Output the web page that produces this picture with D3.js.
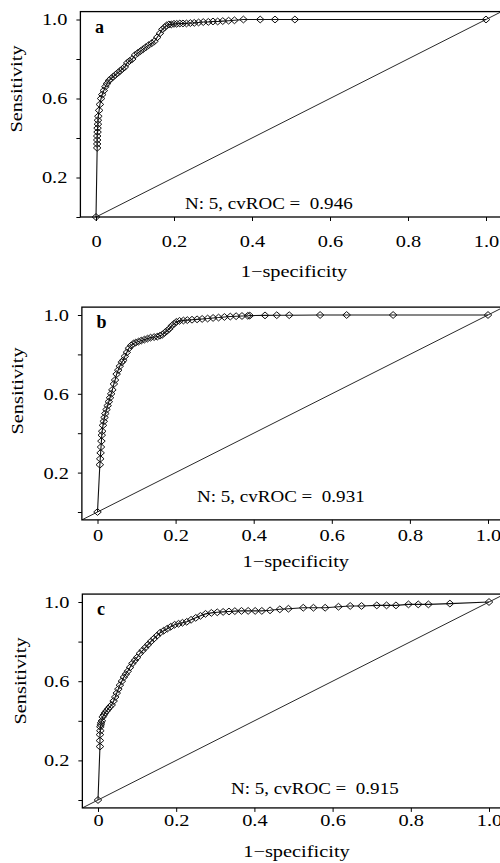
<!DOCTYPE html>
<html>
<head>
<meta charset="utf-8">
<script src="https://cdn.jsdelivr.net/npm/d3@7"></script>
<style>
  body { margin: 0; background: #fff; }
  svg text { font-family: "Liberation Serif", "Times New Roman", serif; fill: #000; }
</style>
</head>
<body>
<script>
/** ROC points (1 - specificity, sensitivity) */
const fprA = [0, 0.003, 0.003, 0.003, 0.003, 0.004, 0.004, 0.005, 0.005, 0.006, 0.008, 0.010, 0.013, 0.016, 0.020,
  0.024, 0.028, 0.033, 0.038, 0.044, 0.050, 0.056, 0.062, 0.068, 0.074, 0.080, 0.086, 0.093, 0.100, 0.107, 0.114,
  0.121, 0.128, 0.135, 0.143, 0.150, 0.157, 0.164, 0.170, 0.176, 0.181, 0.187, 0.193, 0.200, 0.207, 0.215, 0.223,
  0.232, 0.242, 0.252, 0.263, 0.275, 0.288, 0.300, 0.312, 0.325, 0.340, 0.355, 0.378, 0.421, 0.459, 0.510, 1.0];
const tprA = [0, 0.35, 0.37, 0.39, 0.41, 0.43, 0.45, 0.47, 0.49, 0.51, 0.54, 0.57, 0.60, 0.62, 0.64,
  0.66, 0.675, 0.69, 0.70, 0.71, 0.72, 0.73, 0.74, 0.75, 0.76, 0.78, 0.79, 0.80, 0.82, 0.83, 0.84,
  0.85, 0.86, 0.87, 0.88, 0.89, 0.91, 0.93, 0.95, 0.96, 0.97, 0.975, 0.975, 0.978, 0.978, 0.98, 0.98,
  0.98, 0.982, 0.983, 0.985, 0.987, 0.988, 0.99, 0.99, 0.992, 0.994, 0.996, 1.0, 1.0, 1.0, 1.0, 1.0];

const fprB = [0, 0.006, 0.007, 0.008, 0.009, 0.010, 0.011, 0.012, 0.014, 0.016, 0.018, 0.020, 0.023, 0.026, 0.029,
  0.032, 0.035, 0.038, 0.042, 0.045, 0.049, 0.053, 0.057, 0.062, 0.066, 0.070, 0.075, 0.080, 0.086, 0.092, 0.098,
  0.105, 0.112, 0.120, 0.128, 0.136, 0.145, 0.153, 0.160, 0.166, 0.172, 0.178, 0.184, 0.190, 0.196, 0.202, 0.210,
  0.220, 0.230, 0.242, 0.255, 0.268, 0.282, 0.296, 0.310, 0.325, 0.340, 0.355, 0.370, 0.385, 0.390, 0.429, 0.459,
  0.491, 0.570, 0.638, 0.757, 1.0];
const tprB = [0, 0.24, 0.27, 0.30, 0.33, 0.36, 0.39, 0.41, 0.44, 0.46, 0.48, 0.50, 0.52, 0.54, 0.56,
  0.58, 0.60, 0.62, 0.65, 0.67, 0.70, 0.72, 0.74, 0.76, 0.77, 0.79, 0.81, 0.83, 0.845, 0.855, 0.86,
  0.865, 0.87, 0.875, 0.88, 0.885, 0.888, 0.89, 0.895, 0.90, 0.91, 0.92, 0.93, 0.945, 0.955, 0.965, 0.97,
  0.972, 0.974, 0.976, 0.978, 0.98, 0.982, 0.985, 0.987, 0.99, 0.992, 0.994, 0.995, 0.996, 0.997, 0.998, 0.999,
  0.999, 1.0, 1.0, 1.0, 1.0];

const fprC = [0, 0.005, 0.005, 0.005, 0.006, 0.006, 0.007, 0.008, 0.010, 0.012, 0.015, 0.018, 0.022, 0.026,
  0.030, 0.035, 0.040, 0.044, 0.048, 0.052, 0.056, 0.061, 0.066, 0.071, 0.076, 0.082, 0.088, 0.094, 0.100, 0.107,
  0.114, 0.121, 0.128, 0.135, 0.143, 0.151, 0.159, 0.168, 0.177, 0.186, 0.196, 0.206, 0.216, 0.227, 0.238, 0.250,
  0.262, 0.275, 0.290, 0.305, 0.320, 0.335, 0.350, 0.367, 0.384, 0.402, 0.419, 0.440, 0.465, 0.487, 0.525, 0.551,
  0.581, 0.615, 0.645, 0.674, 0.713, 0.738, 0.762, 0.794, 0.819, 0.845, 0.900, 1.0];
const tprC = [0, 0.27, 0.30, 0.33, 0.35, 0.37, 0.38, 0.39, 0.40, 0.42, 0.43, 0.44, 0.45, 0.46,
  0.47, 0.48, 0.50, 0.52, 0.54, 0.56, 0.58, 0.60, 0.62, 0.635, 0.65, 0.67, 0.69, 0.705, 0.72, 0.74,
  0.755, 0.77, 0.785, 0.80, 0.815, 0.83, 0.845, 0.855, 0.865, 0.875, 0.885, 0.89, 0.895, 0.90, 0.91, 0.92,
  0.93, 0.94, 0.945, 0.948, 0.95, 0.952, 0.954, 0.955, 0.955, 0.955, 0.955, 0.958, 0.963, 0.966, 0.971, 0.971,
  0.971, 0.976, 0.98, 0.98, 0.983, 0.983, 0.983, 0.988, 0.988, 0.988, 0.992, 1.0];

const panelLetters = ["a", "b", "c"];
const nFolds = [5, 5, 5];
const cvROC = ["0.946", "0.931", "0.915"];
const xTicks = [0, 0.2, 0.4, 0.6, 0.8, 1.0];
const yTicks = [0, 0.2, 0.4, 0.6, 0.8, 1.0];
const yTickLabels = [0.2, 0.6, 1.0];
const xTitle = "1\u2212specificity";
const yTitle = "Sensitivity";

/** layout of each panel (pixel positions of 0 and 1 on each axis etc.) */
const layout = [
  { x0: 96, x1: 486, y0: 217, y1: 19.5, yMin: 0, tickPad: 14, titleY: 277, ylabY: 89, ylabX: 22, noteX: 185, noteY: 209 },
  { x0: 97.5, x1: 488, y0: 512, y1: 315, yMin: -0.04, tickPad: 5.5, titleY: 567, ylabY: 391, ylabX: 23, noteX: 197, noteY: 502 },
  { x0: 98, x1: 489, y0: 800, y1: 602, yMin: -0.04, tickPad: 2.5, titleY: 857, ylabY: 681, ylabX: 26, noteX: 231, noteY: 794 }
];
const data = [[fprA, tprA], [fprB, tprB], [fprC, tprC]];

const width = 500, height = 863;
const fs = 17;        // tick / label font size
const stretch = 1.2;  // the original text is drawn wider than Liberation Serif

const svg = d3.select("body").append("svg")
  .attr("width", width)
  .attr("height", height);

const diamond = "M0,-3.4L3.8,0L0,3.4L-3.8,0Z";

layout.forEach((L, i) => {
  const g = svg.append("g");
  const x = d3.scaleLinear().domain([0, 1]).range([L.x0, L.x1]);
  const y = d3.scaleLinear().domain([0, 1]).range([L.y0, L.y1]);
  const left = x(-0.04), right = x(1.04), top = y(1.04), bottom = y(L.yMin);

  g.append("clipPath").attr("id", "clip" + i)
    .append("rect")
    .attr("x", left).attr("y", top)
    .attr("width", right - left).attr("height", bottom - top);

  // diagonal reference line
  g.append("line")
    .attr("clip-path", "url(#clip" + i + ")")
    .attr("x1", x(-0.04)).attr("y1", y(-0.04))
    .attr("x2", x(1.04)).attr("y2", y(1.04))
    .attr("stroke", "#111").attr("stroke-width", 0.9);

  const pts = data[i][0].map((f, k) => [f, data[i][1][k]]);
  const line = d3.line().x(d => x(d[0])).y(d => y(d[1]));
  g.append("path")
    .datum(pts)
    .attr("d", line)
    .attr("fill", "none")
    .attr("stroke", "#111")
    .attr("stroke-width", 1.1);

  g.selectAll(".pt")
    .data(pts)
    .enter()
    .append("path")
    .attr("class", "pt")
    .attr("d", diamond)
    .attr("transform", d => "translate(" + x(d[0]) + "," + y(d[1]) + ")")
    .attr("fill", "none")
    .attr("stroke", "#111")
    .attr("stroke-width", 1);

  // box
  g.append("rect")
    .attr("x", left).attr("y", top)
    .attr("width", right - left).attr("height", bottom - top)
    .attr("fill", "none")
    .attr("stroke", "#000")
    .attr("stroke-width", 1.3);

  // axes
  const xAxis = d3.axisBottom(x)
    .tickValues(xTicks)
    .tickSize(4)
    .tickSizeOuter(0)
    .tickPadding(L.tickPad)
    .tickFormat(d => d === 0 ? "0" : d3.format(".1f")(d));
  const gx = g.append("g")
    .attr("transform", "translate(0," + bottom + ")")
    .call(xAxis);

  const yAxis = d3.axisLeft(y)
    .tickValues(yTicks)
    .tickSize(4)
    .tickSizeOuter(0)
    .tickPadding(9)
    .tickFormat(d => yTickLabels.some(v => Math.abs(v - d) < 1e-9) ? d3.format(".1f")(d) : "");
  const gy = g.append("g")
    .attr("transform", "translate(" + left + ",0)")
    .call(yAxis);

  [gx, gy].forEach(ax => {
    ax.select(".domain").remove();
    ax.selectAll("line").attr("stroke", "#000").attr("stroke-width", 1);
    ax.selectAll("text")
      .attr("font-family", null)
      .attr("font-size", fs)
      .attr("fill", "#000");
  });
  gx.selectAll("text").attr("transform", "scale(" + stretch + ",1)");
  gy.selectAll("text")
    .attr("x", -13 / stretch)
    .attr("transform", "scale(" + stretch + ",1)");

  // axis titles
  g.append("text")
    .attr("transform", "translate(" + (x(0.5) + 3) + "," + L.titleY + ") scale(" + stretch + ",1)")
    .attr("text-anchor", "middle")
    .attr("font-size", fs)
    .text(xTitle);

  g.append("text")
    .attr("transform", "translate(" + L.ylabX + "," + L.ylabY + ") rotate(-90) scale(" + stretch + ",1)")
    .attr("text-anchor", "middle")
    .attr("font-size", fs)
    .text(yTitle);

  // panel letter
  g.append("text")
    .attr("x", x(0) - 1)
    .attr("y", y(1) + 13)
    .attr("font-size", fs + 1)
    .attr("font-weight", "bold")
    .text(panelLetters[i]);

  // cross-validated AUC note
  g.append("text")
    .attr("transform", "translate(" + L.noteX + "," + L.noteY + ") scale(1.12,1)")
    .attr("font-size", fs)
    .attr("xml:space", "preserve")
    .style("white-space", "pre")
    .text("N: " + nFolds[i] + ", cvROC =  " + cvROC[i]);
});
</script>
</body>
</html>
